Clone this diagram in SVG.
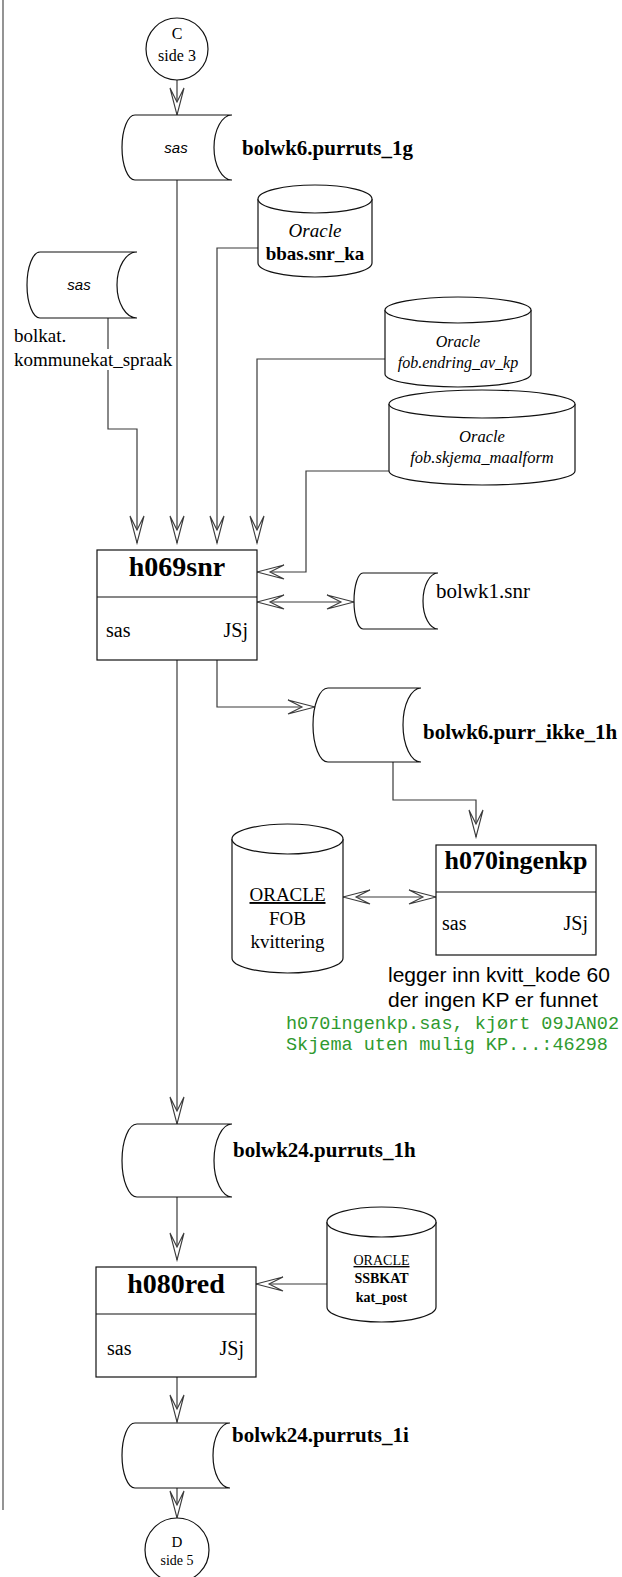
<svg xmlns="http://www.w3.org/2000/svg" width="622" height="1577" viewBox="0 0 622 1577">
<style>
.shape{fill:#fff;stroke:#111;stroke-width:1.2}
.conn{fill:none;stroke:#3a3a3a;stroke-width:1.2}
.serif{font-family:"Liberation Serif","Times New Roman",serif;fill:#000}
.sans{font-family:"Liberation Sans",Arial,sans-serif;fill:#000}
.mono{font-family:"Liberation Mono","Courier New",monospace;fill:#2f9a2f;font-size:18.5px}
.b{font-weight:bold}
.i{font-style:italic}
.lbl{font-family:"Liberation Serif","Times New Roman",serif;font-weight:bold;font-size:21px}
.mid{text-anchor:middle}
.end{text-anchor:end}
</style>
<defs>
<marker id="arr" viewBox="-30 -10 32 20" refX="0" refY="0" markerWidth="32" markerHeight="20" markerUnits="userSpaceOnUse" orient="auto-start-reverse">
<path d="M0,0 L-27,-7 L-13,0 L-27,7 Z" fill="#fff" stroke="#3a3a3a" stroke-width="1.1"/>
</marker>
</defs>
<rect width="622" height="1577" fill="#fff"/>
<line x1="3" y1="0" x2="3" y2="1510" stroke="#888" stroke-width="1.8"/>

<g id="connectors">
<path class="conn" d="M177,80 V115" marker-end="url(#arr)"/>
<path class="conn" d="M177,180 V543" marker-end="url(#arr)"/>
<path class="conn" d="M108,318 V429 H137 V543" marker-end="url(#arr)"/>
<path class="conn" d="M258,248 H217 V543" marker-end="url(#arr)"/>
<path class="conn" d="M385,359 H257 V543" marker-end="url(#arr)"/>
<path class="conn" d="M389,471 H306 V572 H257" marker-end="url(#arr)"/>
<path class="conn" d="M257,602 H354" marker-start="url(#arr)" marker-end="url(#arr)"/>
<path class="conn" d="M217,660 V707 H315" marker-end="url(#arr)"/>
<path class="conn" d="M393,762 V800 H476 V837" marker-end="url(#arr)"/>
<path class="conn" d="M343,897 H436" marker-start="url(#arr)" marker-end="url(#arr)"/>
<path class="conn" d="M177,660 V1124" marker-end="url(#arr)"/>
<path class="conn" d="M177,1197 V1260" marker-end="url(#arr)"/>
<path class="conn" d="M327,1284 H256" marker-end="url(#arr)"/>
<path class="conn" d="M177,1377 V1422" marker-end="url(#arr)"/>
<path class="conn" d="M177,1488 V1518" marker-end="url(#arr)"/>
</g>

<g id="conn-C">
<circle class="shape" cx="177" cy="49" r="31"/>
<text class="serif mid" x="177" y="39" font-size="16">C</text>
<text class="serif mid" x="177" y="61" font-size="16">side 3</text>
</g>

<g id="store-purruts_1g">
<path class="shape" d="M135,115 H232 A18,32.5 0 0 0 232,180 H135 A13,32.5 0 0 1 135,115 Z"/>
<text class="sans i mid" x="176" y="153" font-size="15">sas</text>
<text class="lbl" x="242" y="155">bolwk6.purruts_1g</text>
</g>

<g id="store-kommunekat">
<path class="shape" d="M40,252 H137 A20,33 0 0 0 137,318 H40 A13,33 0 0 1 40,252 Z"/>
<text class="sans i mid" x="79" y="290" font-size="15">sas</text>
<text class="serif" x="14" y="342" font-size="19">bolkat.</text>
<rect x="13" y="349" width="160" height="21" fill="#fff"/>
<text class="serif" x="14" y="366" font-size="19">kommunekat_spraak</text>
</g>

<g id="db-bbas">
<path class="shape" d="M258,199 V263 A57,14 0 0 0 372,263 V199"/>
<ellipse class="shape" cx="315" cy="199" rx="57" ry="14"/>
<text class="serif i mid" x="315" y="237" font-size="19">Oracle</text>
<text class="serif b mid" x="315" y="260" font-size="19">bbas.snr_ka</text>
</g>

<g id="db-endring">
<path class="shape" d="M385,310 V374 A73,13 0 0 0 531,374 V310"/>
<ellipse class="shape" cx="458" cy="310" rx="73" ry="13"/>
<text class="serif i mid" x="458" y="347" font-size="16">Oracle</text>
<text class="serif i mid" x="458" y="368" font-size="16">fob.endring_av_kp</text>
</g>

<g id="db-skjema">
<path class="shape" d="M389,404 V471 A93,14 0 0 0 575,471 V404"/>
<ellipse class="shape" cx="482" cy="404" rx="93" ry="14"/>
<text class="serif i mid" x="482" y="442" font-size="16.5">Oracle</text>
<text class="serif i mid" x="482" y="463" font-size="16.5">fob.skjema_maalform</text>
</g>

<g id="proc-h069snr">
<rect class="shape" x="97" y="550" width="160" height="110"/>
<line class="shape" x1="97" y1="597" x2="257" y2="597"/>
<text class="serif b mid" x="177" y="576" font-size="28">h069snr</text>
<text class="serif" x="106" y="637" font-size="20">sas</text>
<text class="serif end" x="248" y="637" font-size="20">JSj</text>
</g>

<g id="store-bolwk1">
<path class="shape" d="M363,573 H438 A15,28 0 0 0 438,629 H363 A9,28 0 0 1 363,573 Z"/>
<text class="serif" x="436" y="598" font-size="21">bolwk1.snr</text>
</g>

<g id="store-purr_ikke">
<path class="shape" d="M328,688 H421 A18,37 0 0 0 421,762 H328 A15,37 0 0 1 328,688 Z"/>
<text class="lbl" x="423" y="739">bolwk6.purr_ikke_1h</text>
</g>

<g id="db-fob-kvittering">
<path class="shape" d="M232,839 V958 A55.5,15 0 0 0 343,958 V839"/>
<ellipse class="shape" cx="287.5" cy="839" rx="55.5" ry="15"/>
<text class="serif mid" x="287.5" y="901" font-size="19" text-decoration="underline">ORACLE</text>
<text class="serif mid" x="287.5" y="925" font-size="19">FOB</text>
<text class="serif mid" x="287.5" y="948" font-size="19">kvittering</text>
</g>

<g id="proc-h070ingenkp">
<rect class="shape" x="436" y="845" width="160" height="110"/>
<line class="shape" x1="436" y1="892" x2="596" y2="892"/>
<text class="serif b mid" x="516" y="869" font-size="26">h070ingenkp</text>
<text class="serif" x="442" y="930" font-size="20">sas</text>
<text class="serif end" x="588" y="930" font-size="20">JSj</text>
<text class="sans" x="388" y="982" font-size="21">legger inn kvitt_kode 60</text>
<text class="sans" x="388" y="1007" font-size="21">der ingen KP er funnet</text>
<text class="mono" x="286" y="1029">h070ingenkp.sas, kjørt 09JAN02</text>
<text class="mono" x="286" y="1050">Skjema uten mulig KP...:46298</text>
</g>

<g id="store-purruts_1h">
<path class="shape" d="M137,1124 H232 A18,36.5 0 0 0 232,1197 H137 A15,36.5 0 0 1 137,1124 Z"/>
<text class="lbl" x="233" y="1157">bolwk24.purruts_1h</text>
</g>

<g id="db-ssbkat">
<path class="shape" d="M327,1222 V1307 A54.5,15 0 0 0 436,1307 V1222"/>
<ellipse class="shape" cx="381.5" cy="1222" rx="54.5" ry="15"/>
<text class="serif mid" x="381.5" y="1265" font-size="14" text-decoration="underline">ORACLE</text>
<text class="serif b mid" x="381.5" y="1283" font-size="14">SSBKAT</text>
<text class="serif b mid" x="381.5" y="1302" font-size="14">kat_post</text>
</g>

<g id="proc-h080red">
<rect class="shape" x="96" y="1267" width="160" height="110"/>
<line class="shape" x1="96" y1="1314" x2="256" y2="1314"/>
<text class="serif b mid" x="176" y="1293" font-size="28">h080red</text>
<text class="serif" x="107" y="1355" font-size="20">sas</text>
<text class="serif end" x="244" y="1355" font-size="20">JSj</text>
</g>

<g id="store-purruts_1i">
<path class="shape" d="M135,1423 H230 A17,32.5 0 0 0 230,1488 H135 A13,32.5 0 0 1 135,1423 Z"/>
<text class="lbl" x="232" y="1442">bolwk24.purruts_1i</text>
</g>

<g id="conn-D">
<circle class="shape" cx="177" cy="1550" r="32"/>
<text class="serif mid" x="177" y="1547" font-size="15">D</text>
<text class="serif mid" x="177" y="1565" font-size="14">side 5</text>
</g>
</svg>
